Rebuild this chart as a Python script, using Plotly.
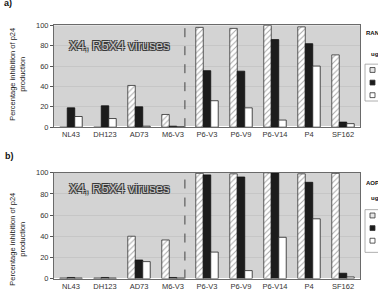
import plotly.graph_objects as go

W, H = 378, 301

viruses = ["NL43", "DH123", "AD73", "M6-V3", "P6-V3", "P6-V9", "P6-V14", "P4", "SF162"]
dose_labels = ["1", "0.1", "0.01"]

# Panel a) RANTES
rantes_high = [0, 0, 41, 12.5, 98, 97, 100, 98.5, 71]
rantes_mid = [19, 21, 20, 1, 55.5, 55, 86, 82, 5]
rantes_low = [10.5, 8.5, 1, 0.5, 26, 19, 7, 60, 3.5]

# Panel b) AOP-RANTES
aop_high = [0.5, 0.5, 40, 36.5, 99.5, 99, 100, 99, 99.5]
aop_mid = [1, 1, 17.5, 1, 98, 96, 100, 91, 5]
aop_low = [0.5, 0.5, 16, 0.5, 25, 7.5, 39, 56.5, 1.5]

yticks = [0, 20, 40, 60, 80, 100]
ytitle = "Percentage inhibition of p24<br>production"
panel_text = "X4, R5X4 viruses"


def px(x):
    return x / W


def py(y):
    return 1 - y / H


FONT = "Liberation Sans, Arial, sans-serif"
fig = go.Figure()

styles = [
    dict(color="white", pattern=dict(shape="/", fgcolor="#555555", bgcolor="white", size=4, solidity=0.25),
         line=dict(color="#333333", width=0.8)),
    dict(color="#1c1c1c", line=dict(color="#111111", width=0.8)),
    dict(color="white", line=dict(color="#222222", width=0.8)),
]

for (xa, ya, series, grp) in [("x", "y", [rantes_high, rantes_mid, rantes_low], "a"),
                              ("x2", "y2", [aop_high, aop_mid, aop_low], "b")]:
    for i, vals in enumerate(series):
        fig.add_trace(go.Bar(x=viruses, y=vals, xaxis=xa, yaxis=ya, marker=styles[i],
                             name=dose_labels[i], offsetgroup=str(i), showlegend=False))

axis_common = dict(showline=True, mirror=True, linecolor="#6a6a6a", linewidth=1)
xdom = [px(54), px(360)]
fig.update_layout(
    width=W, height=H,
    margin=dict(l=0, r=0, t=0, b=0),
    paper_bgcolor="white",
    plot_bgcolor="#d3d3d3",
    barmode="group", bargap=0.34, bargroupgap=0,
    font=dict(family=FONT, color="#333333"),
    xaxis=dict(domain=xdom, anchor="y", tickfont=dict(size=7.5, color="#333"), ticks="",
               **axis_common),
    yaxis=dict(domain=[py(127), py(22)], anchor="x", range=[0, 100], tickvals=yticks,
               ticks="outside", ticklen=3, tickcolor="#555", tickfont=dict(size=7.5, color="#333"),
               showgrid=True, gridcolor="#c6c6c6", gridwidth=0.5, **axis_common),
    xaxis2=dict(domain=xdom, anchor="y2", tickfont=dict(size=7.5, color="#333"), ticks="",
                **axis_common),
    yaxis2=dict(domain=[py(283), py(174)], anchor="x2", range=[0, 100], tickvals=yticks,
                ticks="outside", ticklen=3, tickcolor="#555", tickfont=dict(size=7.5, color="#333"),
                showgrid=True, gridcolor="#c6c6c6", gridwidth=0.5, **axis_common),
)

shapes = []
ann = []
# dashed separators
for xr, yr in [("x", "y domain"), ("x2", "y2 domain")]:
    shapes.append(dict(type="line", xref=xr, yref=yr, x0=3.35, x1=3.35, y0=0, y1=1,
                       line=dict(color="#444444", width=1, dash="dash")))

# big panel text
outline = "-1px -1px 0 #3a3a3a, 1px -1px 0 #3a3a3a, -1px 1px 0 #3a3a3a, 1px 1px 0 #3a3a3a"
for yc in [43, 190]:
    ann.append(dict(text=panel_text, xref="paper", yref="paper", x=px(67), y=py(yc),
                    xanchor="left", yanchor="middle", showarrow=False,
                    font=dict(size=13, color="#c8c8c8", family=FONT, shadow=outline)))

# y titles
for yc in [73, 243]:
    ann.append(dict(text=ytitle, xref="paper", yref="paper", x=px(18), y=py(yc),
                    xanchor="center", yanchor="middle", textangle=-90, showarrow=False,
                    font=dict(size=7.5, color="#222", family=FONT)))

# panel labels
ann.append(dict(text="<b>a)</b>", xref="paper", yref="paper", x=px(2), y=py(-1),
                xanchor="left", yanchor="middle", showarrow=False, font=dict(size=9, color="#111")))
ann.append(dict(text="<b>b)</b>", xref="paper", yref="paper", x=px(3), y=py(157),
                xanchor="left", yanchor="middle", showarrow=False, font=dict(size=9, color="#111")))

# manual legends
sym_fill = ["#e6e6e6", "#1c1c1c", "white"]
for title, ty, uy, box_top, box_bot, ys in [
    ("RANTES", 30, 52, 62, 100, [68, 81, 94]),
    ("AOP-RANTES", 185, 200, 212, 256, [218, 231, 244]),
]:
    ann.append(dict(text="<b>" + title + "</b>", xref="paper", yref="paper", x=px(364), y=py(ty),
                    xanchor="left", yanchor="middle", showarrow=False,
                    font=dict(size=6, color="#111")))
    ann.append(dict(text="<b>ug/ml</b>", xref="paper", yref="paper", x=px(369), y=py(uy),
                    xanchor="left", yanchor="middle", showarrow=False,
                    font=dict(size=6, color="#111")))
    shapes.append(dict(type="rect", xref="paper", yref="paper", x0=px(365), x1=px(420),
                       y0=py(box_bot), y1=py(box_top), line=dict(color="#9a9a9a", width=0.8)))
    for i, yc in enumerate(ys):
        shapes.append(dict(type="rect", xref="paper", yref="paper", x0=px(370), x1=px(375),
                           y0=py(yc + 2.5), y1=py(yc - 2.5), fillcolor=sym_fill[i],
                           line=dict(color="#333", width=0.8)))
        ann.append(dict(text=dose_labels[i], xref="paper", yref="paper", x=px(380), y=py(yc),
                        xanchor="left", yanchor="middle", showarrow=False,
                        font=dict(size=6, color="#111")))

fig.update_layout(shapes=shapes, annotations=ann)
fig.write_html("out.html")
